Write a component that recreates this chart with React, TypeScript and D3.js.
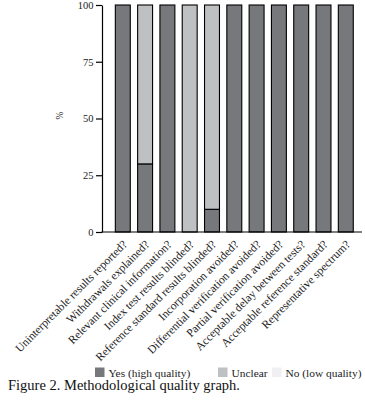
import React, { useEffect, useRef } from "react";
import * as d3 from "d3";

const categories = [
  "Uninterpretable results reported?",
  "Withdrawals explained?",
  "Relevant clinical information?",
  "Index test results blinded?",
  "Reference standard results blinded?",
  "Incorporation avoided?",
  "Differential verification avoided?",
  "Partial verification avoided?",
  "Acceptable delay between tests?",
  "Acceptable reference standard?",
  "Representative spectrum?",
];
const yesValues = [100, 30, 100, 0, 10, 100, 100, 100, 100, 100, 100];
const unclearValues = [0, 70, 0, 100, 90, 0, 0, 0, 0, 0, 0];
const noValues = [0, 0, 0, 0, 0, 0, 0, 0, 0, 0, 0];
const seriesNames = ["Yes (high quality)", "Unclear", "No (low quality)"];
const seriesColors = ["#77787b", "#bfc0c2", "#f0f0f2"];
const yTicks = [0, 25, 50, 75, 100];

const W = 365;
const H = 407;
const FONT = "'Liberation Serif', 'Times New Roman', serif";

export default function App() {
  const ref = useRef<SVGSVGElement>(null);
  useEffect(() => {
    const svg = d3.select(ref.current);
    svg.selectAll("*").remove();
    const y = d3.scaleLinear().domain([0, 100]).range([232, 5]);
    const x = d3
      .scaleBand<string>()
      .domain(categories)
      .range([111.65, 356.95])
      .paddingInner(0.33)
      .paddingOuter(0.165);

    const rows = categories.map((c, i) => ({
      cat: c,
      yes: yesValues[i],
      unclear: unclearValues[i],
      no: noValues[i],
    }));
    const stack = d3.stack<any>().keys(["yes", "unclear", "no"]);
    const series = stack(rows);

    const g = svg.append("g");
    series.forEach((s, si) => {
      g.selectAll(null)
        .data(s.filter((d) => d[1] - d[0] > 0))
        .enter()
        .append("rect")
        .attr("x", (d: any) => x(d.data.cat)!)
        .attr("width", x.bandwidth())
        .attr("y", (d) => y(d[1]))
        .attr("height", (d) => y(d[0]) - y(d[1]))
        .attr("fill", seriesColors[si])
        .attr("stroke", "#000")
        .attr("stroke-width", 1.1);
    });

    // y axis
    const ya = svg
      .append("g")
      .attr("transform", "translate(102,0)")
      .call(
        d3
          .axisLeft(y)
          .tickValues(yTicks)
          .tickSize(6)
          .tickPadding(2.5)
          .tickSizeOuter(0)
      );
    ya.select(".domain").attr("stroke", "#000").attr("stroke-width", 1.2);
    ya.selectAll("line").attr("stroke", "#000").attr("stroke-width", 1.2);
    ya.selectAll("text")
      .attr("font-family", FONT)
      .attr("font-size", 10.5)
      .attr("fill", "#222");

    // x axis line
    svg
      .append("line")
      .attr("x1", 101.5)
      .attr("x2", 362)
      .attr("y1", y(0))
      .attr("y2", y(0))
      .attr("stroke", "#000")
      .attr("stroke-width", 1.2);

    // x labels
    svg
      .append("g")
      .selectAll("text")
      .data(categories)
      .enter()
      .append("text")
      .attr(
        "transform",
        (d) => `translate(${x(d)! + x.bandwidth() / 2 + 5},${y(0) + 13}) rotate(-45)`
      )
      .attr("text-anchor", "end")
      .attr("font-family", FONT)
      .attr("font-size", 11.6)
      .attr("fill", "#222")
      .text((d) => d);

    // y label
    svg
      .append("text")
      .attr("transform", `translate(63,${y(50) - 3}) rotate(-90)`)
      .attr("text-anchor", "middle")
      .attr("font-family", FONT)
      .attr("font-size", 9.5)
      .attr("fill", "#222")
      .text("%");

    // legend
    const legendX = [95, 218, 272];
    const lg = svg.append("g");
    seriesNames.forEach((n, i) => {
      lg.append("rect")
        .attr("x", legendX[i])
        .attr("y", 367.5)
        .attr("width", 9.5)
        .attr("height", 9.5)
        .attr("fill", seriesColors[i]);
      lg.append("text")
        .attr("x", legendX[i] + 13.5)
        .attr("y", 376.5)
        .attr("font-family", FONT)
        .attr("font-size", 11.4)
        .attr("fill", "#222")
        .text(n);
    });

    // caption
    const cap = svg
      .append("text")
      .attr("x", 8)
      .attr("y", 390)
      .attr("font-family", FONT)
      .attr("font-size", 14.5)
      .attr("fill", "#111");
    cap.append("tspan").text("Figure 2.");
    cap.append("tspan").text(" Methodological quality graph.");
  }, []);
  return (
    <svg
      ref={ref}
      width={W}
      height={H}
      style={{ position: "absolute", left: 0, top: 0, background: "#fff" }}
    />
  );
}
